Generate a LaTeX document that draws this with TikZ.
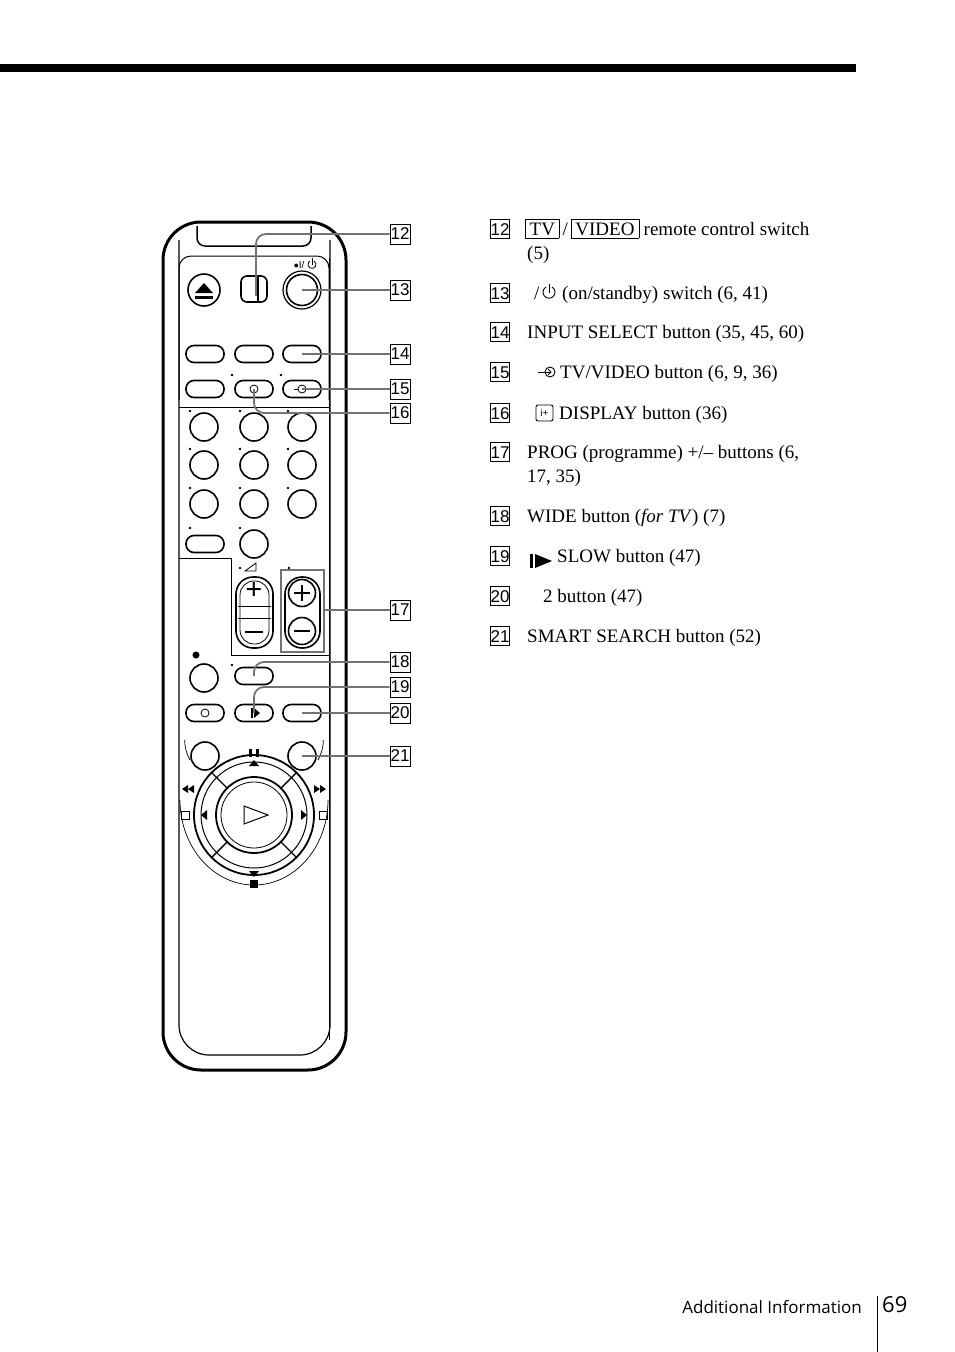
\documentclass[tikz,border=0pt]{standalone}
\usepackage{fontspec}
\setmainfont{Liberation Serif}
\newfontfamily\sansf{Open Sans}
\newfontfamily\numf{Liberation Sans}
\usetikzlibrary{shapes.geometric}
\begin{document}
\begin{tikzpicture}[x=1pt,y=-1pt,
 txt/.style={anchor=base west,inner sep=0pt,font=\fontsize{19}{24}\selectfont},
 lbl/.style={draw,line width=0.9pt,inner sep=0.5pt,minimum width=19pt,minimum height=20pt,font=\numf\fontsize{17}{17}\selectfont},
 nlbl/.style={inner sep=0pt,font=\numf\fontsize{17}{17}\selectfont,draw,line width=0.6pt,minimum width=18pt,minimum height=19pt},
 btn/.style={draw,line width=1.6pt},
 call/.style={draw=black!55,line width=1.8pt,rounded corners=10pt},
 dot/.style={fill,circle,inner sep=1.3pt}]
\useasboundingbox (0,0) rectangle (954,1352);
\fill (0,64) rectangle (856,72);
% remote body
\draw[line width=3pt,rounded corners=38pt] (163,222) rectangle (346,1070);
\draw[line width=1.2pt,rounded corners=30pt] (179,240) -- (179,1055) -- (330,1055) -- (330,240);
\draw[line width=1.5pt,rounded corners=8pt] (197,226) -- (197,246) -- (311,246) -- (311,226);
\draw[line width=1pt,rounded corners=12pt] (179,400) -- (179,256) -- (329,256) -- (329,400);
\draw[line width=1pt] (179,407) -- (329,407);
\draw[line width=1pt] (179,558) -- (231,558) -- (231,655) -- (329,655);
\draw[line width=1pt] (329,258) -- (329,1040);
% eject
\node[btn,circle,minimum size=32pt] (ej) at (204,290) {};
\fill (195,293) -- (213,293) -- (204,283) -- cycle; \fill (195,296) rectangle (213,299);
\node[btn,rounded corners=6pt,minimum width=26pt,minimum height=26pt] (sw) at (254,289) {};
\draw[line width=1.6pt] (258,277) -- (258,301);
\node[draw,line width=1.2pt,circle,minimum size=38pt] (pwo) at (302,290) {};
\node[btn,circle,minimum size=31pt] (pw) at (302,290) {};
\node[font=\numf\fontsize{10}{10}\selectfont] (pwl) at (300,265) {$\bullet$I/\,};
\draw[line width=0.8pt] (314,261) arc (60:-240:4pt); \draw[line width=0.8pt] (312,258)--(312,265);
% rows of ovals
\foreach \nm/\x/\y in {a1/205/354,a2/254/354,a3/302/354,b1/205/389,b2/254/389,b3/302/389,c1/205/544,r18/254/676,d1/205/713,d2/254/713,d3/302/713}
  \node[btn,rounded corners=8pt,minimum width=38pt,minimum height=17pt] (\nm) at (\x,\y) {};
\node[dot,inner sep=1pt] at (232,375) {}; \node[dot,inner sep=1pt] at (281,375) {};
\draw[line width=0.8pt] (254,389) circle (4pt); \draw[line width=0.8pt] (302,389) circle (4pt); \draw[line width=0.8pt] (294,389)--(298,389);
% numbers
\foreach \x/\dx in {204/-1,254/-1,302/-1} \foreach \y in {427,465,504} {
  \node[btn,circle,minimum size=28pt] at (\x,\y) {};
  \node[dot,inner sep=0.9pt] at (\x-14,\y-16) {};}
\node[btn,circle,minimum size=28pt] (c2) at (254,544) {};
\node[dot,inner sep=0.9pt] at (190,528) {}; \node[dot,inner sep=0.9pt] at (240,528) {};
% volume
\node[dot,inner sep=1pt] at (240,568) {};
\draw[line width=0.8pt] (245,571) -- (256,563) -- (256,571) -- cycle;
\draw[line width=1.6pt,rounded corners=17pt] (236,577) rectangle (273,648);
\draw[line width=0.8pt,rounded corners=14pt] (240,581) rectangle (269,644);
\draw[line width=1pt] (238,606) -- (271,606); \draw[line width=1pt] (238,618) -- (271,618);
\node[font=\bfseries\fontsize{30}{30}\selectfont] at (254,591) {+};
\draw[line width=2.5pt] (245,632) -- (263,632);
% prog
\node[dot,inner sep=1pt] at (289,568) {};
\draw[black!55,line width=1.8pt] (281,570) rectangle (324,652);
\draw[line width=1.6pt,rounded corners=17pt] (285,577) rectangle (320,648);
\node[btn,circle,minimum size=27pt] (pp) at (302,593) {};
\node[btn,circle,minimum size=27pt] (pm) at (302,631) {};
\draw[line width=2.2pt] (294,593) -- (310,593) (302,585) -- (302,601);
\draw[line width=2.2pt] (294,631) -- (310,631);
% rec etc
\node[btn,circle,minimum size=28pt] (rec) at (204,678) {};
\node[dot,inner sep=2.5pt] at (196,655) {};
\node[dot,inner sep=1pt] at (232,665) {};
\draw[line width=0.8pt] (205,713) circle (4pt); \fill (251,708) rectangle (253,718); \fill (254,708) -- (260,713) -- (254,718) -- cycle;
% jog
\node[btn,circle,minimum size=28pt] (s1) at (205,756) {};
\node[btn,circle,minimum size=28pt] (s2) at (302,756) {};
\draw[line width=0.7pt] (180,800) arc (180:360:74pt and 85pt);
\draw[line width=0.7pt] (190,760) arc (210:180:40pt);
\draw[line width=0.7pt] (318,760) arc (-30:0:40pt);
\draw[line width=1.8pt] (254,815) circle (60pt);
\draw[line width=1pt] (254,815) circle (53pt);
\draw[line width=1.8pt] (254,815) circle (38pt);
\draw[line width=0.8pt] (254,815) circle (33pt);
\foreach \a in {45,135,225,315} \draw[line width=1.4pt] (254,815) ++(\a:38pt) -- ++(\a:22pt);
\draw[line width=1pt] (244,806) -- (244,824) -- (268,815) -- cycle;
\fill (249,749) rectangle (252,757); \fill (256,749) rectangle (259,757);
\fill (249,766) -- (259,766) -- (254,760) -- cycle; \fill (249,871) -- (259,871) -- (254,877) -- cycle;
\fill (250,880) rectangle (258,888);
\fill (201,815) -- (207,810) -- (207,820) -- cycle; \fill (307,815) -- (301,810) -- (301,820) -- cycle;
\fill (182,789) -- (188,785) -- (188,793) -- cycle;\fill (188,789) -- (194,785) -- (194,793) -- cycle;
\fill (326,789) -- (320,785) -- (320,793) -- cycle;\fill (320,789) -- (314,785) -- (314,793) -- cycle;
\draw[line width=0.7pt] (181,811) rectangle (189,819); \draw[line width=0.7pt] (319,811) rectangle (327,819);
% labels
\foreach \n/\y in {12/234,13/290,14/354,15/389,16/413,17/610,18/662,19/687,20/713,21/756}
  \node[lbl] (L\n) at (400,\y) {\n};
\draw[call] (256,296) -- (256,234) -- (L12.west);
\draw[call] (pw.center) -- (L13.west);
\draw[call] (a3.center) -- (L14.west);
\draw[call] (b3.center) -- (L15.west);
\draw[call] (b2.center) -- (254,413) -- (L16.west);
\draw[call] (324,610) -- (L17.west);
\draw[call] (r18.center) -- (254,662) -- (L18.west);
\draw[call] (d2.center) -- (254,687) -- (L19.west);
\draw[call] (d3.center) -- (L20.west);
\draw[call] (s2.center) -- (L21.west);
% text list
\foreach \n/\y in {12/235,13/299,14/338,15/378,16/419,17/458,18/522,19/562,20/602,21/642}
  \node[nlbl,anchor=base] at (500,\y) {\n};
\node[txt] at (522,235) {\,\framebox[34pt]{TV}\,/\,\framebox[68pt]{VIDEO} remote control switch};
\node[txt] at (527,259) {(5)};
\node[txt] at (534,299) {/\hspace{18pt} (on/standby) switch (6, 41)};
\draw[line width=0.9pt] (552,287) arc (60:-240:6pt); \draw[line width=0.9pt] (549,284)--(549,293);
\node[txt] at (527,338) {INPUT SELECT button (35, 45, 60)};
\draw[line width=0.9pt] (550,372) circle (5pt); \draw[line width=0.9pt] (538,372)--(551,372); \draw[line width=0.9pt] (548,369)--(551,372)--(548,375);
\node[txt] at (560,378) {TV/VIDEO button (6, 9, 36)};
\draw[line width=0.9pt,rounded corners=2pt] (536,405) rectangle (553,421); \node[font=\numf\fontsize{10}{10}\selectfont] at (544.5,413) {i+};
\node[txt] at (559,419) {DISPLAY button (36)};
\node[txt] at (527,458) {PROG (programme) +/– buttons (6,};
\node[txt] at (527,482) {17, 35)};
\node[txt] at (527,522) {WIDE button (\textit{for TV}) (7)};
\fill (530,554) rectangle (533,568); \fill (535,554) -- (552,561) -- (535,568) -- cycle;
\node[txt] at (557,562) {SLOW button (47)};
\node[txt] at (543,602) {2 button (47)};
\node[txt] at (527,642) {SMART SEARCH button (52)};
% footer
\node[anchor=base east,inner sep=0pt,font=\sansf\fontsize{17}{17}\selectfont] at (862,1313) {Additional Information};
\draw[line width=1pt] (877,1296) -- (877,1352);
\node[anchor=base west,inner sep=0pt,font=\sansf\fontsize{22}{22}\selectfont] at (882,1312) {69};
\end{tikzpicture}
\end{document}
